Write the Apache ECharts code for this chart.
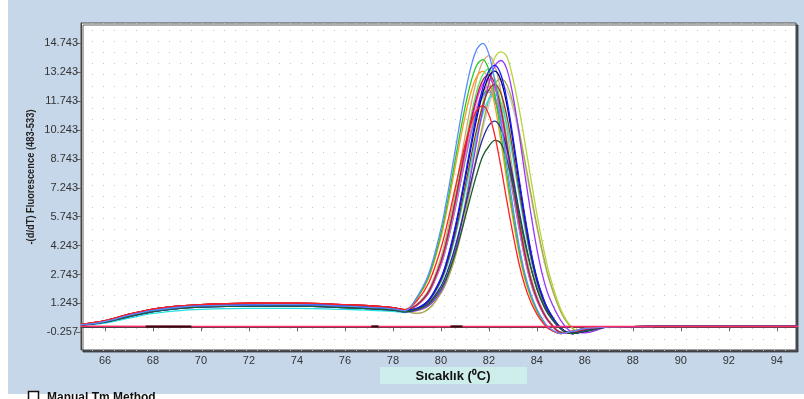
<!DOCTYPE html>
<html>
<head>
<meta charset="utf-8">
<script src="https://cdn.jsdelivr.net/npm/echarts@6/dist/echarts.min.js"></script>
<style>
  html, body { margin: 0; padding: 0; background: #fff; }
  #wrap { position: relative; width: 804px; height: 399px; background: #fff; overflow: hidden; }
  #bg { position: absolute; left: 8px; top: 0; width: 796px; height: 394px; background: #c7d7ea; }
  #chart { position: absolute; left: 0; top: 0; width: 804px; height: 399px; }
</style>
</head>
<body>
<div id="wrap">
  <div id="bg"></div>
  <div id="chart"></div>
</div>
<script>
const baseTemps = [65, 66, 67, 68, 69, 70, 72, 74, 76, 77, 78, 78.5];
const peakTemps = [79, 79.5, 80, 80.25, 80.5, 80.75, 81, 81.25, 81.5, 81.75, 82, 82.25,
  82.5, 82.75, 83, 83.25, 83.5, 83.75, 84, 84.25, 84.5, 85, 85.5, 86];
const tailTemps = [87, 88, 90, 92, 95];

// low plateau before the melt (four bands of the bundle)
const baseHigh = [0.15, 0.35, 0.68, 0.95, 1.10, 1.18, 1.25, 1.26, 1.18, 1.12, 1.02, 0.92];
const baseMid = [0.13, 0.30, 0.62, 0.88, 1.03, 1.11, 1.17, 1.18, 1.10, 1.04, 0.96, 0.86];
const baseLow = [0.12, 0.27, 0.56, 0.82, 0.97, 1.05, 1.10, 1.10, 1.03, 0.97, 0.90, 0.81];
const baseCyan = [0.10, 0.22, 0.48, 0.72, 0.86, 0.93, 0.98, 0.98, 0.93, 0.89, 0.83, 0.77];
const tailVals = [0.02, 0.04, 0.05, 0.05, 0.05];

// melt peaks
const lightBluePeak = [1.57, 2.81, 5.11, 6.70, 8.48, 10.32, 12.06, 13.50, 14.44, 14.74, 14.18, 12.77, 10.72, 8.41, 6.26, 4.31, 2.79, 1.72, 0.95, 0.39, -0.01, -0.32, -0.20, -0.06];
const greenPeak = [1.52, 2.68, 4.85, 6.34, 8.02, 9.75, 11.38, 12.73, 13.62, 13.90, 13.37, 12.03, 10.10, 7.93, 5.90, 4.06, 2.63, 1.61, 0.88, 0.35, -0.03, -0.32, -0.20, -0.06];
const redPeak = [1.38, 2.33, 4.09, 5.31, 6.69, 8.10, 9.44, 10.55, 11.27, 11.50, 11.05, 9.94, 8.35, 6.55, 4.87, 3.34, 2.15, 1.30, 0.69, 0.24, -0.08, -0.32, -0.20, -0.06];
const orangePeak = [1.49, 2.59, 4.66, 6.08, 7.68, 9.34, 10.90, 12.19, 13.03, 13.30, 12.79, 11.51, 9.66, 7.58, 5.64, 3.88, 2.51, 1.53, 0.83, 0.32, -0.04, -0.32, -0.20, -0.06];
const magentaPeak = [1.16, 1.86, 3.36, 4.50, 5.88, 7.43, 9.05, 10.56, 11.82, 12.63, 12.90, 12.42, 11.18, 9.39, 7.37, 5.48, 3.77, 2.43, 1.48, 0.80, 0.30, -0.26, -0.28, -0.12];
const pinkPeak = [1.15, 1.82, 3.27, 4.38, 5.71, 7.21, 8.77, 10.24, 11.46, 12.24, 12.50, 12.04, 10.83, 9.09, 7.14, 5.30, 3.65, 2.35, 1.43, 0.77, 0.29, -0.26, -0.28, -0.12];
const limePeak = [1.18, 1.91, 3.47, 4.66, 6.09, 7.71, 9.39, 10.96, 12.28, 13.12, 13.40, 12.91, 11.62, 9.75, 7.65, 5.69, 3.92, 2.53, 1.55, 0.84, 0.33, -0.25, -0.28, -0.12];
const lavenderPeak = [1.14, 1.79, 3.21, 4.28, 5.58, 7.04, 8.57, 9.99, 11.18, 11.95, 12.20, 11.75, 10.57, 8.87, 6.96, 5.18, 3.56, 2.29, 1.39, 0.75, 0.27, -0.26, -0.28, -0.12];
const darkRedPeak = [1.17, 1.88, 3.41, 4.56, 5.96, 7.54, 9.18, 10.72, 12.00, 12.83, 13.10, 12.62, 11.36, 9.53, 7.48, 5.56, 3.83, 2.47, 1.51, 0.82, 0.31, -0.26, -0.28, -0.12];
const tealPeak = [1.14, 1.80, 3.23, 4.31, 5.62, 7.10, 8.64, 10.08, 11.27, 12.05, 12.30, 11.84, 10.66, 8.95, 7.02, 5.22, 3.59, 2.31, 1.40, 0.76, 0.28, -0.26, -0.28, -0.12];
const tanPeak = [1.20, 1.97, 3.63, 4.88, 6.39, 8.10, 9.87, 11.53, 12.91, 13.80, 14.10, 13.58, 12.23, 10.27, 8.06, 5.99, 4.13, 2.67, 1.64, 0.90, 0.36, -0.25, -0.28, -0.12];
const darkBluePeak = [0.94, 1.27, 2.13, 2.84, 3.78, 4.91, 6.19, 7.52, 8.78, 9.81, 10.48, 10.70, 10.32, 9.28, 7.79, 6.11, 4.54, 3.11, 1.99, 1.20, 0.63, -0.09, -0.32, -0.20];
const darkGreenPeak = [0.92, 1.21, 1.99, 2.62, 3.46, 4.48, 5.64, 6.84, 7.97, 8.90, 9.40, 9.70, 9.55, 8.70, 7.40, 5.90, 4.40, 3.10, 2.05, 1.25, 0.70, -0.08, -0.32, -0.20];
const cyanPeak = [0.96, 1.35, 2.34, 3.15, 4.22, 5.51, 6.97, 8.48, 9.91, 11.08, 11.85, 12.10, 11.67, 10.50, 8.82, 6.92, 5.14, 3.53, 2.27, 1.38, 0.74, -0.06, -0.32, -0.20];
const bluePeak = [0.99, 1.44, 2.56, 3.48, 4.69, 6.15, 7.80, 9.51, 11.12, 12.45, 13.31, 13.60, 13.12, 11.81, 9.91, 7.78, 5.79, 3.98, 2.57, 1.58, 0.86, -0.03, -0.32, -0.20];
const navyPeak = [0.98, 1.42, 2.52, 3.41, 4.59, 6.02, 7.64, 9.30, 10.88, 12.17, 13.02, 13.30, 12.83, 11.55, 9.69, 7.61, 5.66, 3.89, 2.51, 1.54, 0.84, -0.04, -0.32, -0.20];
const brownPeak = [0.97, 1.38, 2.42, 3.26, 4.37, 5.72, 7.25, 8.82, 10.31, 11.54, 12.34, 12.60, 12.15, 10.94, 9.18, 7.21, 5.36, 3.68, 2.37, 1.45, 0.78, -0.05, -0.32, -0.20];
const yellowGreenPeak = [0.88, 1.14, 1.92, 2.63, 3.60, 4.88, 6.43, 8.18, 9.99, 11.68, 13.09, 14.01, 14.30, 14.05, 12.92, 11.40, 9.60, 7.71, 5.88, 4.26, 2.86, 0.93, -0.04, -0.25];
const purplePeak = [0.87, 1.13, 1.87, 2.57, 3.50, 4.73, 6.24, 7.93, 9.68, 11.32, 12.68, 13.57, 13.85, 13.39, 12.05, 10.12, 7.94, 5.91, 4.07, 2.63, 1.61, 0.35, -0.25, -0.28];
const grayPeak = [0.72, 0.95, 1.76, 2.38, 3.23, 4.34, 5.70, 7.23, 8.83, 10.31, 11.54, 12.35, 12.60, 12.29, 11.38, 10.04, 8.45, 6.78, 5.17, 3.73, 2.49, 0.79, -0.07, -0.25];
const olivePeak = [0.72, 0.98, 1.78, 2.42, 3.29, 4.44, 5.83, 7.40, 9.03, 10.55, 11.82, 12.64, 12.90, 12.59, 11.65, 10.28, 8.66, 6.95, 5.29, 3.83, 2.56, 0.81, -0.07, -0.25];

// negative control (flat) and its dark overlapping bits
const ncTemps = [65, 70, 75, 80, 85, 90, 95];
const ncVals = [0.06, 0.05, 0.05, 0.05, 0.04, 0.05, 0.05];
const ncMarkRanges = [[67.7, 69.6], [77.1, 77.4], [80.4, 80.9]];

const xTicks = [66, 68, 70, 72, 74, 76, 78, 80, 82, 84, 86, 88, 90, 92, 94];
const yTicks = [-0.257, 1.243, 2.743, 4.243, 5.743, 7.243, 8.743, 10.243, 11.743, 13.243, 14.743];

const curves = [
  { color: "#c8c8c8", base: baseLow, peak: grayPeak },
  { color: "#a8a840", base: baseMid, peak: olivePeak },
  { color: "#b4d63a", base: baseMid, peak: yellowGreenPeak },
  { color: "#d2a679", base: baseMid, peak: tanPeak },
  { color: "#9a9aff", base: baseLow, peak: lavenderPeak },
  { color: "#2e9a9a", base: baseLow, peak: tealPeak },
  { color: "#22e0e0", base: baseCyan, peak: cyanPeak },
  { color: "#ff9922", base: baseHigh, peak: orangePeak },
  { color: "#ff77aa", base: baseMid, peak: pinkPeak },
  { color: "#55ee55", base: baseMid, peak: limePeak },
  { color: "#22cc22", base: baseMid, peak: greenPeak },
  { color: "#9933ff", base: baseLow, peak: purplePeak },
  { color: "#ff22ff", base: baseHigh, peak: magentaPeak },
  { color: "#8b4513", base: baseHigh, peak: brownPeak },
  { color: "#b02040", base: baseHigh, peak: darkRedPeak },
  { color: "#000080", base: baseMid, peak: navyPeak },
  { color: "#1a1aff", base: baseMid, peak: bluePeak },
  { color: "#2a2aa0", base: baseLow, peak: darkBluePeak },
  { color: "#1e5e2e", base: baseLow, peak: darkGreenPeak },
  { color: "#ff2020", base: baseHigh, peak: redPeak },
  { color: "#5b8cff", base: baseMid, peak: lightBluePeak }
];

const allTemps = baseTemps.concat(peakTemps, tailTemps);
const FONT = "'Liberation Sans', Arial, sans-serif";

const series = curves.map((c) => {
  const vals = c.base.concat(c.peak, tailVals);
  return {
    type: "line",
    data: allTemps.map((t, i) => [t, vals[i]]),
    showSymbol: false,
    smooth: 0.35,
    lineStyle: { color: c.color, width: 1.3 },
    silent: true
  };
});

// negative control drawn on top of the converged tails
series.push({
  type: "line",
  data: ncTemps.map((t, i) => [t, ncVals[i]]),
  showSymbol: false,
  lineStyle: { color: "#ff2a66", width: 1.5 },
  silent: true
});

ncMarkRanges.forEach((r) => {
  series.push({
    type: "line",
    data: [[r[0], 0.05], [r[1], 0.05]],
    showSymbol: false,
    lineStyle: { color: "#3a0010", width: 2 },
    silent: true
  });
});

const chart = echarts.init(document.getElementById("chart"));
chart.setOption({
  animation: false,
  grid: {
    left: 81, right: 8, top: 23, bottom: 49,
    show: true,
    backgroundColor: "#ffffff",
    borderColor: "#444",
    borderWidth: 1,
    shadowColor: "rgba(40,40,40,0.75)",
    shadowBlur: 0,
    shadowOffsetX: 2,
    shadowOffsetY: 2
  },
  xAxis: {
    type: "value",
    min: 65,
    max: 94.8,
    axisLine: { show: true, lineStyle: { color: "#444", width: 1 } },
    axisTick: { show: true, length: 4, customValues: xTicks, lineStyle: { color: "#666" } },
    axisLabel: { customValues: xTicks, color: "#333", fontSize: 11, fontFamily: FONT, margin: 5 },
    splitLine: { show: false }
  },
  yAxis: [
    {
      type: "value",
      min: -1.176,
      max: 15.797,
      axisLine: { show: true, lineStyle: { color: "#444", width: 1 } },
      axisTick: { show: true, length: 5, customValues: yTicks, lineStyle: { color: "#666" } },
      axisLabel: {
        customValues: yTicks,
        formatter: (v) => v.toFixed(3),
        color: "#333", fontSize: 11, fontFamily: FONT, margin: 3
      },
      splitLine: { show: false }
    },
    {
      // dotted background of the plot
      type: "value",
      min: 0,
      max: 29.7,
      interval: 1,
      position: "right",
      axisLine: { show: false },
      axisTick: { show: false },
      axisLabel: { show: false },
      splitLine: { show: true, lineStyle: { color: "#c4c4c4", width: 1, type: [1, 10] } }
    }
  ],
  graphic: [
    {
      type: "text",
      x: 31, y: 177,
      rotation: Math.PI / 2,
      scaleX: 0.85,
      style: {
        text: "-(d/dT) Fluorescence (483-533)",
        font: "bold 11px " + FONT,
        fill: "#222",
        align: "center",
        verticalAlign: "middle"
      }
    },
    {
      type: "rect",
      shape: { x: 380, y: 367, width: 147, height: 17 },
      style: { fill: "#cdeeea" }
    },
    {
      type: "text",
      x: 453, y: 376,
      style: {
        text: "Sıcaklık (⁰C)",
        font: "bold 13px " + FONT,
        fill: "#111",
        align: "center",
        verticalAlign: "middle"
      }
    },
    {
      type: "rect",
      shape: { x: 28.5, y: 391.5, width: 10, height: 10 },
      style: { fill: "#fff", stroke: "#111", lineWidth: 1.5 }
    },
    {
      type: "text",
      x: 47, y: 392,
      style: {
        text: "Manual Tm Method",
        font: "bold 12px " + FONT,
        fill: "#111",
        verticalAlign: "top"
      }
    }
  ],
  series: series
});
</script>
</body>
</html>
